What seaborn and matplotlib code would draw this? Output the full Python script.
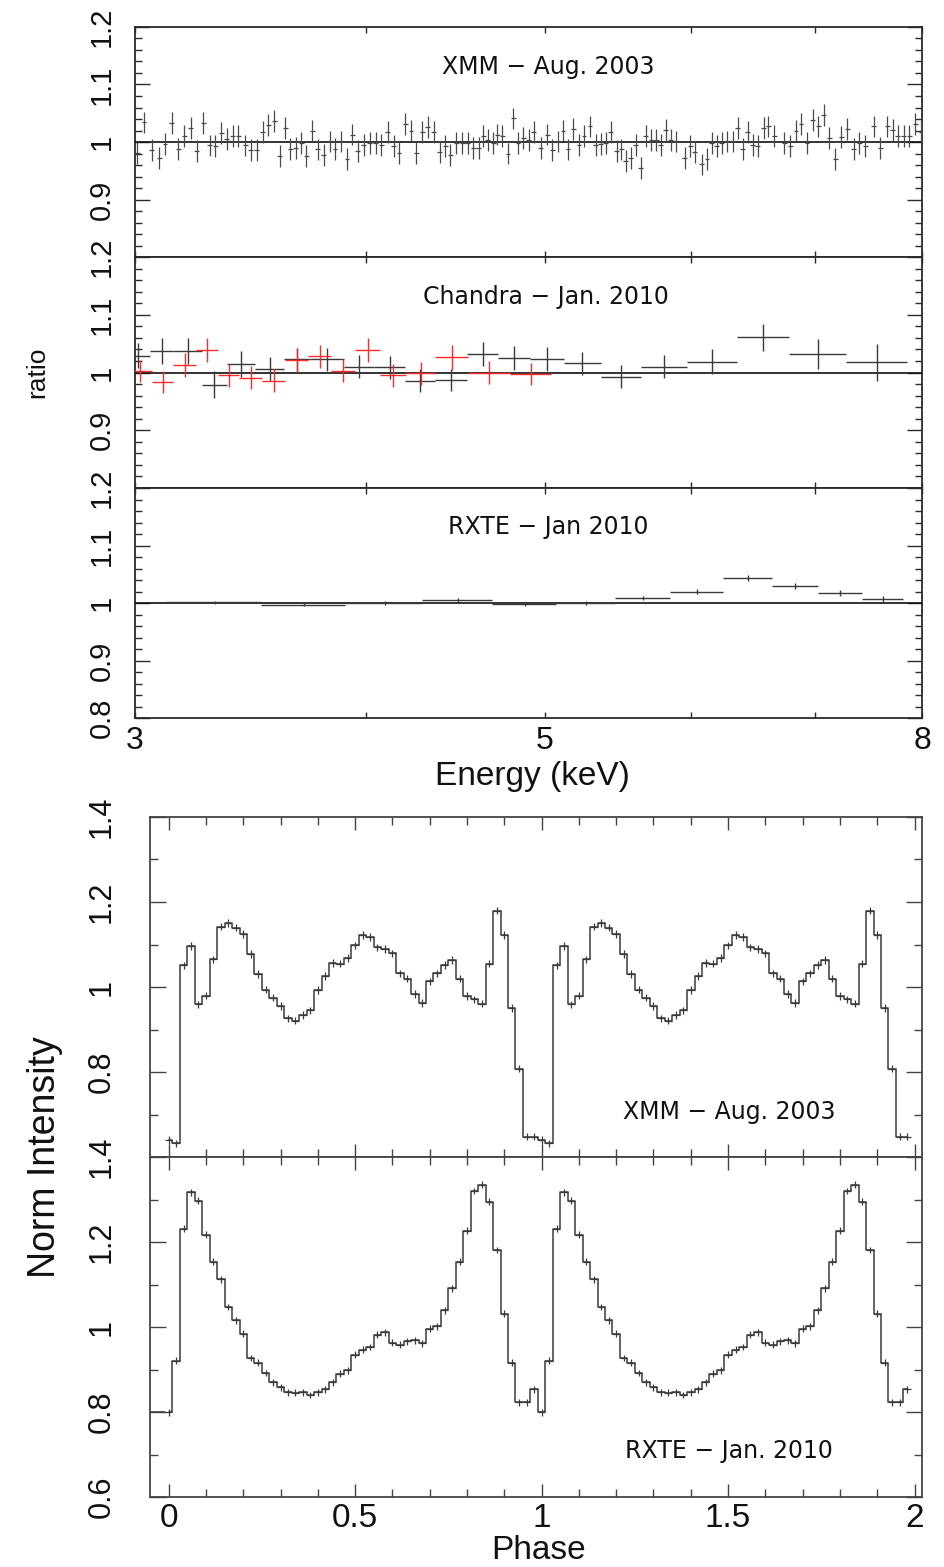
import numpy as np
import pandas as pd
import matplotlib
matplotlib.use("Agg")
import matplotlib.pyplot as plt
from matplotlib.ticker import FixedLocator, MultipleLocator, NullLocator, FuncFormatter
import seaborn as sns

# ---------------- spectral ratio data ----------------
xmm_energy = [3.009, 3.034, 3.063, 3.092, 3.114, 3.141, 3.166, 3.190, 3.216, 3.240,
              3.267, 3.292, 3.315, 3.340, 3.364, 3.389, 3.413, 3.442, 3.466, 3.492,
              3.517, 3.543, 3.568, 3.592, 3.618, 3.640, 3.666, 3.691, 3.714, 3.742,
              3.768, 3.795, 3.823, 3.849, 3.878, 3.907, 3.933, 3.959, 3.989, 4.019,
              4.049, 4.077, 4.110, 4.141, 4.169, 4.201, 4.232, 4.260, 4.291, 4.321,
              4.353, 4.386, 4.417, 4.445, 4.478, 4.510, 4.542, 4.573, 4.605, 4.630,
              4.657, 4.688, 4.712, 4.741, 4.775, 4.807, 4.835, 4.867, 4.901,
              4.932, 4.973, 5.015, 5.047, 5.082, 5.114, 5.146, 5.181, 5.217, 5.250,
              5.289, 5.327, 5.360, 5.394, 5.428, 5.468, 5.500, 5.530, 5.565, 5.600,
              5.635, 5.670, 5.710, 5.746, 5.777, 5.813, 5.850, 5.886, 5.953, 5.992,
              6.028, 6.078, 6.119, 6.155, 6.193, 6.232, 6.273, 6.318, 6.358, 6.397,
              6.437, 6.478, 6.518, 6.567, 6.605, 6.655, 6.738, 6.789, 6.838, 6.880,
              6.932, 6.982, 7.031, 7.078, 7.128, 7.179, 7.233, 7.287, 7.348, 7.400,
              7.453, 7.534, 7.596, 7.660, 7.715, 7.763, 7.821, 7.876, 7.933, 7.992]
xmm_ratio = [0.981, 1.034, 0.986, 0.972, 0.997, 1.033, 0.988, 1.010, 1.024, 0.984,
             1.033, 0.994, 0.993, 1.016, 1.005, 1.011, 1.011, 0.994, 0.986, 0.986,
             1.018, 1.030, 1.036, 0.975, 1.024, 0.988, 0.990, 0.998, 0.976, 1.020,
             0.987, 0.978, 1.001, 0.988, 1.001, 0.971, 1.013, 0.984, 0.995, 0.999,
             0.998, 0.995, 1.017, 0.993, 0.981, 1.032, 1.020, 0.981, 1.017, 1.026,
             1.018, 0.982, 0.993, 0.978, 0.998, 0.998, 0.998, 0.990, 0.990, 1.010,
             1.004, 0.998, 1.013, 1.010, 0.980, 1.041, 0.998, 1.007, 1.004,
             1.018, 0.990, 1.013, 0.986, 1.001, 1.020, 0.987, 1.022, 0.995, 1.010,
             1.027, 0.995, 0.997, 0.998, 1.018, 0.984, 0.987, 0.967, 0.972, 0.995,
             0.955, 1.011, 1.004, 1.004, 0.995, 1.021, 1.004, 1.001, 0.972, 0.993,
             0.982, 0.961, 0.971, 0.998, 0.993, 0.998, 1.001, 1.001, 1.024, 0.988,
             1.018, 0.995, 0.993, 1.024, 1.027, 1.011, 0.998, 0.993, 1.020, 1.032,
             0.999, 1.039, 1.027, 1.047, 1.007, 0.971, 1.009, 1.022, 0.988, 0.998,
             0.993, 1.027, 0.990, 1.027, 1.021, 1.010, 1.010, 1.010, 1.032, 1.018]
xmm_ratio_err = 0.019
xmm_bin_half_frac = 0.003

chandra_black_edges = [2.963, 3.057, 3.147, 3.260, 3.364, 3.485, 3.610, 3.732, 3.891,
                       4.039, 4.202, 4.362, 4.538, 4.717, 4.911, 5.120, 5.360, 5.635,
                       5.972, 6.349, 6.780, 7.277, 7.849]
chandra_black_ratio = [1.029, 1.037, 1.037, 0.979, 1.015, 1.006, 1.023, 1.023, 1.010,
                       1.009, 0.986, 0.987, 1.032, 1.025, 1.023, 1.016, 0.993, 1.010,
                       1.019, 1.061, 1.032, 1.018]
chandra_black_err = [0.022, 0.023, 0.023, 0.023, 0.022, 0.020, 0.020, 0.020, 0.020,
                     0.020, 0.020, 0.019, 0.020, 0.021, 0.021, 0.020, 0.020, 0.020,
                     0.021, 0.023, 0.026, 0.032]

chandra_red_edges = [2.974, 3.063, 3.147, 3.236, 3.325, 3.417, 3.514, 3.618, 3.722,
                     3.831, 3.944, 4.073, 4.207, 4.362, 4.542, 4.790, 5.036]
chandra_red_ratio = [1.002, 0.983, 1.013, 1.039, 0.995, 0.991, 0.986, 1.022, 1.028,
                     1.003, 1.039, 0.995, 0.999, 1.026, 1.000, 0.997]
chandra_red_err = [0.019, 0.019, 0.020, 0.021, 0.020, 0.020, 0.020, 0.021, 0.020,
                   0.020, 0.021, 0.020, 0.020, 0.021, 0.020, 0.019]

rxte_edges = [3.120, 3.511, 3.897, 4.292, 4.680, 5.070, 5.459, 5.846, 6.245, 6.636,
              7.025, 7.424, 7.809]
rxte_ratio = [1.001, 0.997, 1.000, 1.005, 0.998, 1.000, 1.009, 1.020, 1.043, 1.030,
              1.017, 1.007]
rxte_ratio_err = [0.003, 0.003, 0.003, 0.004, 0.004, 0.004, 0.004, 0.005, 0.005, 0.005,
                  0.005, 0.006]

energy_ticks = [3, 4, 5, 6, 7, 8]
energy_ticklabels = ["3", "", "5", "", "", "8"]

# ---------------- pulse profile data (one cycle, plotted twice) ----------------
n_bins = 50
xmm_profile_cycle = [0.640, 0.632, 1.051, 1.096, 0.959, 0.980, 1.065, 1.142, 1.150, 1.140,
                     1.125, 1.077, 1.030, 0.994, 0.975, 0.955, 0.926, 0.921, 0.934, 0.945,
                     0.993, 1.026, 1.056, 1.055, 1.068, 1.098, 1.122, 1.118, 1.093, 1.089,
                     1.079, 1.032, 1.020, 0.983, 0.963, 1.013, 1.032, 1.052, 1.063, 1.020,
                     0.979, 0.971, 0.961, 1.055, 1.180, 1.123, 0.951, 0.808, 0.648, 0.648]
rxte_profile_cycle = [0.799, 0.921, 1.231, 1.317, 1.297, 1.217, 1.154, 1.112, 1.047, 1.016,
                      0.984, 0.927, 0.916, 0.892, 0.870, 0.858, 0.846, 0.845, 0.846, 0.840,
                      0.846, 0.853, 0.870, 0.890, 0.898, 0.935, 0.947, 0.953, 0.982, 0.988,
                      0.963, 0.958, 0.966, 0.969, 0.962, 0.996, 1.002, 1.039, 1.091, 1.154,
                      1.227, 1.320, 1.335, 1.295, 1.181, 1.031, 0.916, 0.823, 0.823, 0.853]
xmm_profile_err = 0.009
rxte_profile_err = 0.008
phase_half_bin = 0.01

phase = np.round(np.arange(2 * n_bins) / n_bins, 3)
xmm_profile = np.tile(xmm_profile_cycle, 2)
rxte_profile = np.tile(rxte_profile_cycle, 2)

phase_ticklabels = {0.0: "0", 0.5: "0.5", 1.0: "1", 1.5: "1.5", 2.0: "2"}

# ---------------- styling ----------------
sns.set_theme(style="ticks")
plt.rcParams["font.family"] = ["Liberation Sans", "DejaVu Sans"]
plt.rcParams["axes.unicode_minus"] = True

DATA_C = "#3a3a3a"
SPINE_C = "#2a2a2a"
TEXT_C = "#111111"

fig = plt.figure(figsize=(9.44, 15.67), dpi=100)


def fy(top, bot):
    return [1 - bot / 1567, (bot - top) / 1567]


L1, W1 = 135 / 944, 787 / 944
ax1 = fig.add_axes([L1, fy(27, 257)[0], W1, fy(27, 257)[1]])
ax2 = fig.add_axes([L1, fy(257, 488)[0], W1, fy(257, 488)[1]])
ax3 = fig.add_axes([L1, fy(488, 718)[0], W1, fy(488, 718)[1]])
L2, W2 = 150 / 944, 772 / 944
ax4 = fig.add_axes([L2, fy(817, 1157)[0], W2, fy(817, 1157)[1]])
ax5 = fig.add_axes([L2, fy(1157, 1497)[0], W2, fy(1157, 1497)[1]])


def yfmt(v, pos):
    return "1" if abs(v - 1) < 1e-9 else f"{v:.1f}"


def style_spines(ax, color):
    for s in ax.spines.values():
        s.set_color(color)
        s.set_linewidth(1.3)
        s.set_visible(True)


def ratio_panel(ax, yticks, show_x):
    ax.set_xscale("log")
    ax.set_xlim(3, 8)
    ax.set_ylim(0.8, 1.2)
    ax.xaxis.set_major_locator(FixedLocator(energy_ticks))
    ax.xaxis.set_minor_locator(NullLocator())
    ax.set_xticklabels(energy_ticklabels if show_x else [""] * len(energy_ticks))
    ax.yaxis.set_major_locator(FixedLocator(yticks))
    ax.yaxis.set_minor_locator(MultipleLocator(0.02))
    ax.yaxis.set_major_formatter(FuncFormatter(yfmt))
    ax.tick_params(which="both", direction="in", top=True, right=True,
                   color=SPINE_C, width=1.0, labelcolor=TEXT_C)
    ax.tick_params(axis="x", which="major", length=4.5, labelsize=23, pad=6,
                   labelbottom=show_x)
    ax.tick_params(axis="y", which="major", length=10.5, labelsize=21, pad=14,
                   labelrotation=90)
    ax.tick_params(axis="y", which="minor", length=5)
    for lab in ax.get_yticklabels():
        lab.set_va("center")
    ax.axhline(1.0, color="#111111", lw=1.2, zorder=3)
    style_spines(ax, SPINE_C)
    ax.set_facecolor("white")


def binned(ax, edges, vals, errs, color):
    edges = np.asarray(edges)
    centers = 0.5 * (edges[:-1] + edges[1:])
    ax.errorbar(centers, vals, yerr=errs,
                xerr=[centers - edges[:-1], edges[1:] - centers],
                fmt="none", ecolor=color, elinewidth=1.0, capsize=0, zorder=4)


# panel 1: XMM spectral ratio
e = np.asarray(xmm_energy)
ax1.errorbar(e, xmm_ratio, yerr=xmm_ratio_err, xerr=e * xmm_bin_half_frac,
             fmt="none", ecolor="#4a4a4a", elinewidth=0.9, capsize=0, zorder=4)
ratio_panel(ax1, [0.9, 1.0, 1.1, 1.2], False)
ax1.text(0.525, 0.826, "XMM \u2212 Aug. 2003", transform=ax1.transAxes,
         ha="center", va="center", fontsize=17, family="DejaVu Sans", color=TEXT_C)

# panel 2: Chandra
binned(ax2, chandra_black_edges, chandra_black_ratio, chandra_black_err, DATA_C)
binned(ax2, chandra_red_edges, chandra_red_ratio, chandra_red_err, "#ff2a2a")
ratio_panel(ax2, [0.9, 1.0, 1.1, 1.2], False)
ax2.text(0.522, 0.827, "Chandra \u2212 Jan. 2010", transform=ax2.transAxes,
         ha="center", va="center", fontsize=17, family="DejaVu Sans", color=TEXT_C)

# panel 3: RXTE
binned(ax3, rxte_edges, rxte_ratio, rxte_ratio_err, DATA_C)
ratio_panel(ax3, [0.8, 0.9, 1.0, 1.1, 1.2], True)
ax3.text(0.525, 0.83, "RXTE \u2212 Jan 2010", transform=ax3.transAxes,
         ha="center", va="center", fontsize=17, family="DejaVu Sans", color=TEXT_C)

fig.text(37 / 944, 1 - 372 / 1567, "ratio", rotation=90, ha="center", va="center",
         fontsize=19, color=TEXT_C)
fig.text(532 / 944, 1 - 785 / 1567, "Energy (keV)", ha="center", va="baseline",
         fontsize=24, color=TEXT_C)


# ---------------- pulse profiles ----------------
PHASE_LIM = (-0.05, 2.02)


def profile_panel(ax, yticks, show_x):
    ax.set_xlim(*PHASE_LIM)
    ax.set_ylim(0.6, 1.4)
    ax.xaxis.set_major_locator(MultipleLocator(0.5))
    ax.xaxis.set_minor_locator(MultipleLocator(0.1))
    ax.xaxis.set_major_formatter(FuncFormatter(
        lambda v, p: phase_ticklabels.get(round(v, 2), "")))
    ax.yaxis.set_major_locator(FixedLocator(yticks))
    ax.yaxis.set_minor_locator(MultipleLocator(0.1))
    ax.yaxis.set_major_formatter(FuncFormatter(yfmt))
    ax.tick_params(which="both", direction="in", top=True, right=True,
                   color="#444444", width=1.0, labelcolor=TEXT_C)
    ax.tick_params(axis="x", which="major", length=9.5, labelsize=24, pad=4,
                   labelbottom=show_x)
    ax.tick_params(axis="x", which="minor", length=5.5)
    ax.tick_params(axis="y", which="major", length=11.5, labelsize=22, pad=24,
                   labelrotation=90)
    ax.tick_params(axis="y", which="minor", length=6)
    for lab in ax.get_yticklabels():
        lab.set_va("center")
    ax.set_xlabel("")
    ax.set_ylabel("")
    style_spines(ax, "#444444")
    ax.set_facecolor("white")


def profile(ax, values, err):
    df = pd.DataFrame({"phase": phase, "intensity": values})
    sns.lineplot(data=df, x="phase", y="intensity", ax=ax, estimator=None,
                 drawstyle="steps-mid", color=DATA_C, lw=1.1, legend=False)
    ax.errorbar(phase, values, xerr=phase_half_bin, yerr=err, fmt="none",
                ecolor=DATA_C, elinewidth=0.9, capsize=0)


profile(ax4, xmm_profile, xmm_profile_err)
profile_panel(ax4, [0.8, 1.0, 1.2, 1.4], False)
ax4.text(0.75, 0.132, "XMM \u2212 Aug. 2003", transform=ax4.transAxes,
         ha="center", va="center", fontsize=17, family="DejaVu Sans", color=TEXT_C)

profile(ax5, rxte_profile, rxte_profile_err)
ax5.hlines(rxte_profile[0], PHASE_LIM[0], phase[0] - phase_half_bin,
           color=DATA_C, lw=1.1)
profile_panel(ax5, [0.6, 0.8, 1.0, 1.2, 1.4], True)
ax5.text(0.75, 0.135, "RXTE \u2212 Jan. 2010", transform=ax5.transAxes,
         ha="center", va="center", fontsize=17, family="DejaVu Sans", color=TEXT_C)

fig.text(45 / 944, 1 - 1157 / 1567, "Norm Intensity", rotation=90, ha="center",
         va="center", fontsize=27, color=TEXT_C)
fig.text(539 / 944, 8 / 1567, "Phase", ha="center", va="baseline",
         fontsize=24, color=TEXT_C)

fig.savefig("out.png", dpi=100, facecolor="white")
